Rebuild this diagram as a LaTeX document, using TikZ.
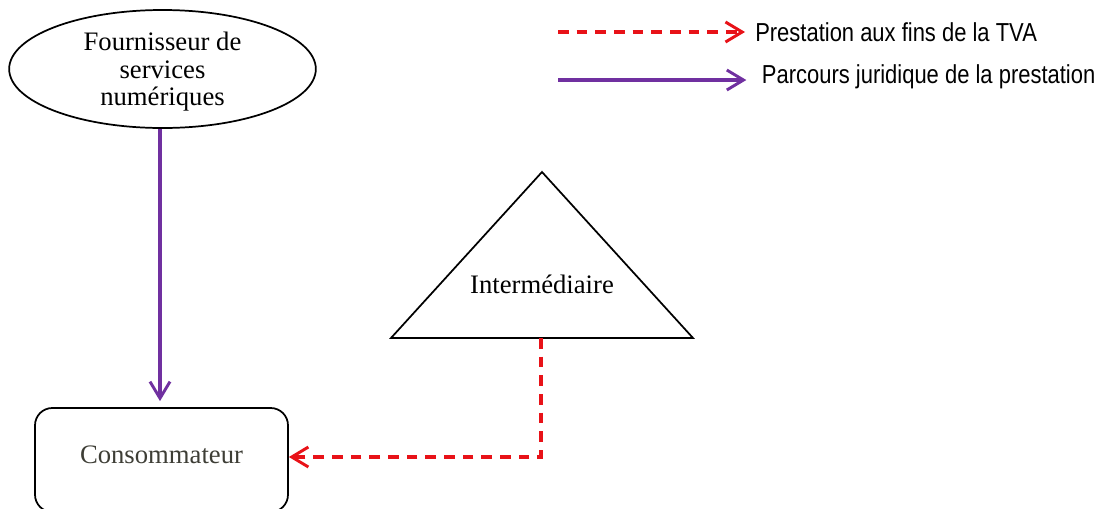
\documentclass[tikz,border=0pt]{standalone}
\usepackage{fontspec}
\setmainfont{Liberation Serif}
\newfontfamily\legfont[FakeStretch=0.845]{Liberation Sans}
\usetikzlibrary{arrows.meta,shapes.geometric}
\definecolor{tvared}{RGB}{232,18,24}
\definecolor{jurpurple}{RGB}{112,48,160}
\definecolor{consgray}{RGB}{62,62,54}
\tikzset{
  tva/.style={draw=tvared, line width=2.4pt, dash pattern=on 8pt off 6pt, -{Straight Barb[length=12.5pt,width=15pt,line width=2.2pt]}},
  juridique/.style={draw=jurpurple, line width=2.4pt, -{Straight Barb[length=12.5pt,width=15pt,line width=2.2pt]}},
  legtext/.style={anchor=west, font=\legfont\fontsize{19.5}{22}\selectfont},
  shapetext/.style={font=\fontsize{20}{20.6}\selectfont, align=center}
}
\begin{document}
\begin{tikzpicture}[x=0.75pt,y=0.75pt,yscale=-1,xscale=1]
\useasboundingbox (0,0) rectangle (1100,508);

%Ellipse [id:fournisseur]
\node[draw, ellipse, line width=1.3pt, minimum width=230pt, minimum height=88.5pt, inner sep=0pt] (fournisseur) at (162.5,69) {};
% Text Node
\node[shapetext] (fournisseurtxt) at (162.5,72) {Fournisseur de\\services\\numériques};
%Rounded Rect [id:conso]
\node[draw, rounded corners=13pt, line width=1.3pt, minimum width=189.75pt, minimum height=78pt, text depth=7.5pt, shapetext, text=consgray] (conso) at (161.5,460) {Consommateur};
%Shape: Triangle [id:intermediaire]
\draw[line width=1.3pt] (542,172) -- (693,338) -- (391,338) -- cycle;
\coordinate (intbase) at (541,338);
% Text Node
\node[shapetext] (inter) at (542,284) {Intermédiaire};

%Straight Lines [id:juridique]
\draw[juridique, shorten >=4.5pt] (fournisseur.south -| 160,0) -- (conso.north -| 160,0);
%Shape: Elbow Connector [id:tva]
\draw[tva] (intbase) |- ([yshift=-2.25pt]conso.east);

%Legend
\coordinate (legA) at (558,32);
\coordinate (legB) at (558,80);
\node[legtext, inner xsep=7.5pt] (legtva) at (745,32) {Prestation aux fins de la TVA};
\node[legtext, inner xsep=12.5pt] (legjur) at (745,77) {Parcours juridique de la prestation};
\draw[tva] (legA) -- (legtva.west);
\draw[juridique] (legB) -- ([xshift=1pt]legB -| legtva.west);

\end{tikzpicture}
\end{document}
